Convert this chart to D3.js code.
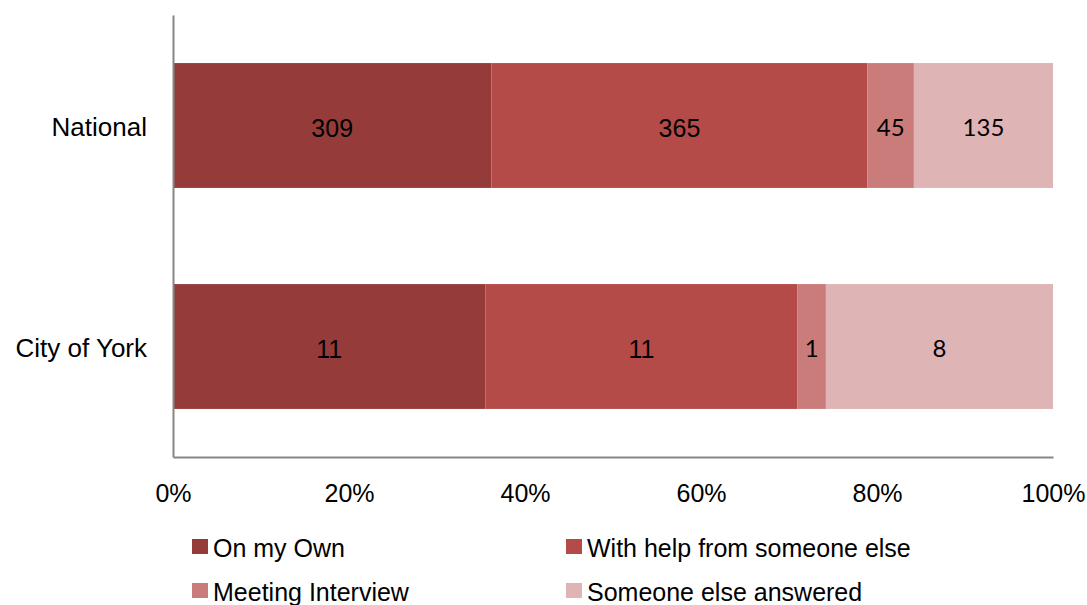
<!DOCTYPE html>
<html>
<head>
<meta charset="utf-8">
<script src="https://cdn.jsdelivr.net/npm/d3@7"></script>
<style>
  html, body { margin: 0; padding: 0; background: #fff; }
  svg { display: block; }
</style>
</head>
<body>
<svg id="chart" width="1087" height="605"></svg>
<script>
// Survey responses: how the questionnaire was completed
const categories = ["National", "City of York"];
const seriesNames = ["On my Own", "With help from someone else", "Meeting Interview", "Someone else answered"];
const onMyOwn = [309, 11];
const withHelp = [365, 11];
const meetingInterview = [45, 1];
const someoneElse = [135, 8];
const tickValues = [0, 0.2, 0.4, 0.6, 0.8, 1.0];
const colors = ["#953c3b", "#b44b49", "#ca7c7b", "#dfb4b4"];
// value-label font per series (first two in Arial style, last two Calibri style)
const labelFonts = ["'Liberation Sans', Arial, sans-serif", "'Liberation Sans', Arial, sans-serif", "Lato, sans-serif", "Lato, sans-serif"];
const labelSizes = [25, 25, 24, 24];

const seriesValues = [onMyOwn, withHelp, meetingInterview, someoneElse];
const rows = categories.map((c, i) => {
  const r = { category: c };
  seriesNames.forEach((s, k) => r[s] = seriesValues[k][i]);
  return r;
});

const svg = d3.select("#chart");
const margin = { left: 173, right: 34, top: 15, bottom: 148 };
const W = 1087, H = 605;

const x = d3.scaleLinear().domain([0, 1]).range([margin.left, W - margin.right]);
const y = d3.scaleBand().domain(categories)
  .range([margin.top, H - margin.bottom])
  .paddingInner(0.435).paddingOuter(0.2175);

const stack = d3.stack().keys(seriesNames).offset(d3.stackOffsetExpand);
const stacked = stack(rows);

const layers = svg.append("g").selectAll("g")
  .data(stacked).join("g")
  .attr("fill", (d, i) => colors[i]);

layers.selectAll("rect")
  .data(d => d.map(p => ({ p, key: d.key })))
  .join("rect")
  .attr("x", d => x(d.p[0]))
  .attr("width", d => x(d.p[1]) - x(d.p[0]))
  .attr("y", d => y(d.p.data.category))
  .attr("height", y.bandwidth());

// Value labels centred in each segment
stacked.forEach((layer, k) => {
  svg.append("g").selectAll("text")
    .data(layer).join("text")
    .attr("x", d => (x(d[0]) + x(d[1])) / 2)
    .attr("y", d => y(d.data.category) + y.bandwidth() / 2 + 2)
    .attr("dy", "0.36em")
    .attr("text-anchor", "middle")
    .attr("font-family", labelFonts[k])
    .attr("font-size", labelSizes[k])
    .attr("fill", "#000")
    .text(d => d.data[layer.key]);
});

// Axes
const xAxis = d3.axisBottom(x).tickValues(tickValues).tickFormat(d3.format(".0%")).tickSize(0).tickPadding(27);
const gx = svg.append("g").attr("transform", `translate(0,${H - margin.bottom})`).call(xAxis);
gx.select(".domain").attr("stroke", "#868686").attr("stroke-width", 2);
gx.selectAll("text").attr("font-family", "'Liberation Sans', Arial, sans-serif").attr("font-size", 25).attr("fill", "#000");

const yAxis = d3.axisLeft(y).tickSize(0).tickPadding(26);
const gy = svg.append("g").attr("transform", `translate(${margin.left},0)`).call(yAxis);
gy.select(".domain").attr("stroke", "#868686").attr("stroke-width", 2);
gy.selectAll("text")
  .attr("font-family", "'Liberation Sans', Arial, sans-serif")
  .attr("font-size", 26).attr("fill", "#000")
  .attr("dy", "0.42em");

// Legend, two columns
const legend = svg.append("g");
const legendX = [192, 566];
const legendY = [547, 591];
const items = legend.selectAll("g").data(seriesNames).join("g")
  .attr("transform", (d, i) => `translate(${legendX[i % 2]},${legendY[Math.floor(i / 2)]})`);
items.append("rect")
  .attr("x", 0).attr("y", -8).attr("width", 16).attr("height", 15)
  .attr("fill", (d, i) => colors[i]);
items.append("text")
  .attr("x", 21).attr("y", 1).attr("dy", "0.36em")
  .attr("font-family", "'Liberation Sans', Arial, sans-serif")
  .attr("font-size", 25)
  .attr("fill", "#000")
  .text(d => d);
</script>
</body>
</html>
